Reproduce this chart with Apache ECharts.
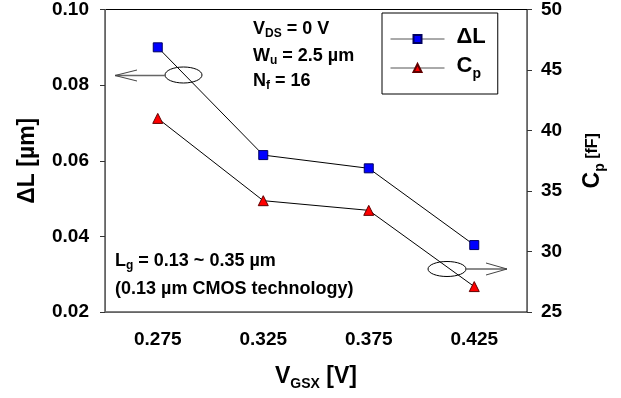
<!DOCTYPE html>
<html>
<head>
<meta charset="utf-8">
<script src="https://cdn.jsdelivr.net/npm/echarts@6/dist/echarts.min.js"></script>
<style>
html,body{margin:0;padding:0;background:#fff;}
#c{width:621px;height:398px;}
</style>
</head>
<body>
<div id="c"></div>
<script>
const xCats = ['0.275', '0.325', '0.375', '0.425'];
const deltaL = [0.090, 0.0615, 0.058, 0.0377];
const cp = [41.0, 34.2, 33.4, 27.1];
const leftTicks = { min: 0.02, max: 0.10, interval: 0.02 };
const rightTicks = { min: 25, max: 50, interval: 5 };

const FF = '"Liberation Sans", Arial, sans-serif';
const chart = echarts.init(document.getElementById('c'));

const subRich = (size, subSize, lh, slh) => ({
  m: { fontFamily: FF, fontWeight: 'bold', fontSize: size, color: '#000', lineHeight: lh, verticalAlign: 'top' },
  s: { fontFamily: FF, fontWeight: 'bold', fontSize: subSize, color: '#000', lineHeight: slh, verticalAlign: 'bottom' }
});

function annot(x, y, text, size) {
  return {
    type: 'text', left: x, top: y - 10, z: 10,
    style: { text: text, rich: subRich(size || 18, 12, 20, 10), fill: '#000', font: 'bold 18px ' + FF }
  };
}

const option = {
  animation: false,
  backgroundColor: '#fff',
  grid: { left: 105, right: 94, top: 9, bottom: 86, show: true, borderColor: '#000', borderWidth: 1 },
  legend: {
    orient: 'vertical', left: 382, top: 13,
    padding: [13, 12, 13, 8],
    borderColor: '#000', borderWidth: 1,
    itemWidth: 54, itemHeight: 10, itemGap: 7,
    lineStyle: { color: '#555', width: 1 },
    data: ['dL', 'Cp'],
    formatter: function (n) { return n === 'dL' ? '{m|ΔL}' : '{m|C}{s|p}'; },
    textStyle: {
      padding: [0, 0, 0, 7],
      rich: {
        m: { fontFamily: FF, fontWeight: 'bold', fontSize: 22, color: '#000', lineHeight: 26, verticalAlign: 'top' },
        s: { fontFamily: FF, fontWeight: 'bold', fontSize: 14, color: '#000', lineHeight: 14, verticalAlign: 'bottom' }
      }
    }
  },
  xAxis: {
    type: 'category', data: xCats, boundaryGap: true,
    axisLine: { lineStyle: { color: '#666', width: 1 } },
    axisTick: { alignWithLabel: true, length: 5, lineStyle: { color: '#333' } },
    axisLabel: { fontFamily: FF, fontWeight: 'bold', fontSize: 19, color: '#000', margin: 18 },
    name: '{m|V}{s|GSX}{m| [V]}', nameLocation: 'middle', nameGap: 53,
    nameTextStyle: {
      rich: {
        m: { fontFamily: FF, fontWeight: 'bold', fontSize: 23, color: '#000', lineHeight: 26, verticalAlign: 'top' },
        s: { fontFamily: FF, fontWeight: 'bold', fontSize: 14, color: '#000', lineHeight: 12, verticalAlign: 'bottom' }
      }
    }
  },
  yAxis: [
    {
      type: 'value', position: 'left',
      min: leftTicks.min, max: leftTicks.max, interval: leftTicks.interval,
      splitLine: { show: false },
      axisLine: { show: true, lineStyle: { color: '#666', width: 1 } },
      axisTick: { show: true, length: 5, lineStyle: { color: '#333' } },
      axisLabel: { fontFamily: FF, fontWeight: 'bold', fontSize: 19, color: '#000', margin: 16,
        formatter: v => v.toFixed(2) },
      name: 'ΔL [µm]', nameLocation: 'middle', nameRotate: 90, nameGap: 66,
      nameTextStyle: { fontFamily: FF, fontWeight: 'bold', fontSize: 23, color: '#000' }
    },
    {
      type: 'value', position: 'right',
      min: rightTicks.min, max: rightTicks.max, interval: rightTicks.interval,
      splitLine: { show: false },
      axisLine: { show: true, lineStyle: { color: '#666', width: 1 } },
      axisTick: { show: true, length: 5, lineStyle: { color: '#333' } },
      axisLabel: { fontFamily: FF, fontWeight: 'bold', fontSize: 19, color: '#000', margin: 14 },
      name: '{m|C}{s|p}{f| [fF]}', nameLocation: 'middle', nameRotate: 90, nameGap: 54,
      nameTextStyle: {
        rich: {
          m: { fontFamily: FF, fontWeight: 'bold', fontSize: 23, color: '#000', lineHeight: 26, verticalAlign: 'top' },
          s: { fontFamily: FF, fontWeight: 'bold', fontSize: 14, color: '#000', lineHeight: 12, verticalAlign: 'bottom' },
          f: { fontFamily: FF, fontWeight: 'bold', fontSize: 16, color: '#000', lineHeight: 26, verticalAlign: 'top', padding: [4, 0, 0, 0] }
        }
      }
    }
  ],
  series: [
    {
      name: 'dL', type: 'line', yAxisIndex: 0, data: deltaL,
      symbol: 'rect', symbolSize: 9,
      lineStyle: { color: '#000', width: 1 },
      itemStyle: { color: '#0000ff', borderColor: '#000060', borderWidth: 1 }
    },
    {
      name: 'Cp', type: 'line', yAxisIndex: 1, data: cp,
      symbol: 'triangle', symbolSize: 10,
      lineStyle: { color: '#000', width: 1 },
      itemStyle: { color: '#ff0000', borderColor: '#600000', borderWidth: 1 }
    }
  ],
  graphic: [
    annot(253, 30, '{m|V}{s|DS}{m| = 0 V}'),
    annot(253, 57, '{m|W}{s|u}{m| = 2.5 µm}'),
    annot(253, 82, '{m|N}{s|f}{m| = 16}'),
    annot(115, 262, '{m|L}{s|g}{m| = 0.13 ~ 0.35 µm}'),
    annot(115, 290, '{m|(0.13 µm CMOS technology)}'),
    { type: 'ellipse', shape: { cx: 183.5, cy: 75, rx: 18.5, ry: 8 }, style: { fill: 'none', stroke: '#000', lineWidth: 1 }, z: 10 },
    { type: 'line', shape: { x1: 165, y1: 75.5, x2: 115, y2: 75.5 }, style: { stroke: '#666', lineWidth: 1.5 }, z: 10 },
    { type: 'polyline', shape: { points: [[137, 70], [115, 75.5], [137, 81]] }, style: { fill: 'none', stroke: '#444', lineWidth: 1 }, z: 10 },
    { type: 'ellipse', shape: { cx: 447, cy: 269, rx: 19, ry: 7.5 }, style: { fill: 'none', stroke: '#000', lineWidth: 1 }, z: 10 },
    { type: 'line', shape: { x1: 466, y1: 269, x2: 507, y2: 269 }, style: { stroke: '#666', lineWidth: 1.5 }, z: 10 },
    { type: 'polyline', shape: { points: [[486, 263], [507, 269], [486, 275]] }, style: { fill: 'none', stroke: '#444', lineWidth: 1 }, z: 10 }
  ]
};
chart.setOption(option);
</script>
</body>
</html>
